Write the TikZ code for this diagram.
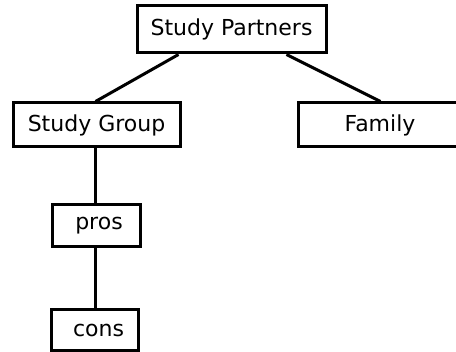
\documentclass[tikz,border=0pt]{standalone}
\usepackage{fontspec}
\setmainfont{DejaVu Sans}
\tikzset{
  box/.style={draw=black, line width=3pt, fill=white, inner sep=0pt, font=\fontsize{22}{26}\selectfont},
  link/.style={draw=black, line width=3pt}
}
\begin{document}
\begin{tikzpicture}[x=1pt,y=-1pt]
\path[use as bounding box] (0,0) rectangle (456,352);
\node[box, minimum width=189pt, minimum height=47pt] (SP) at (231.5,29.5) {Study Partners};
\node[box, minimum width=167pt, minimum height=44pt] (SG) at (96.5,125) {Study Group};
\node[box, minimum width=164pt, minimum height=44pt] (FA) at (380,125) {Family};
\node[box, minimum width=88pt, minimum height=42pt] (PR) at (96,226) {\kern6pt pros};
\node[box, minimum width=87pt, minimum height=41pt] (CO) at (94.5,330.5) {\kern8pt cons};
\draw[link] ([xshift=43pt]SP.south west) -- ([xshift=84pt]SG.north west);
\draw[link] ([xshift=-41pt]SP.south east) -- ([xshift=84pt]FA.north west);
\draw[link] ([xshift=-1.5pt]SG.south) -- ([xshift=-1pt]PR.north);
\draw[link] ([xshift=-1pt]PR.south) -- ([xshift=0.5pt]CO.north);
\end{tikzpicture}
\end{document}
